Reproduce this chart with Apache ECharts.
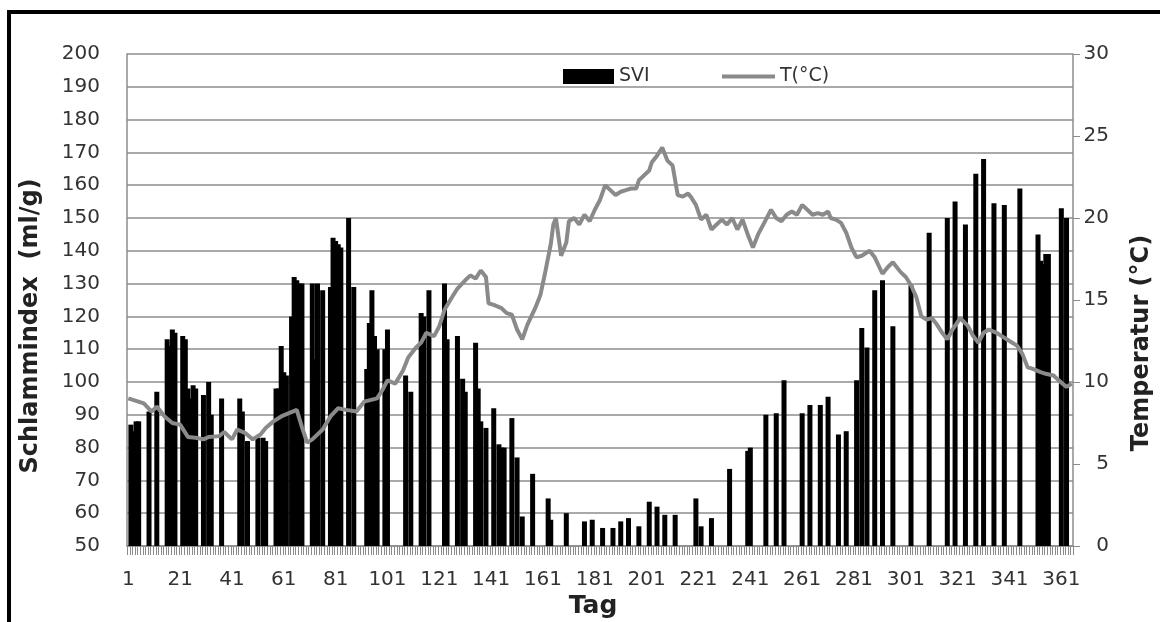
<!DOCTYPE html>
<html>
<head>
<meta charset="utf-8">
<script src="https://cdn.jsdelivr.net/npm/echarts@6/dist/echarts.min.js"></script>
<style>
  html, body { margin: 0; padding: 0; background: #fff; }
  #chart { width: 1160px; height: 622px; }
</style>
</head>
<body>
<div id="chart"></div>
<script>
// Tage 1..365
const days = Array.from({ length: 365 }, (_, i) => String(i + 1));

// Schlammindex (SVI, ml/g) an den Messtagen
const sviDays = [2, 3, 4, 5, 9, 12, 16, 17, 18, 19, 22, 23, 24, 25, 26, 27, 30, 32, 33, 37,
  44, 45, 47, 51, 53, 54, 58, 59, 60, 61, 62, 64, 65, 66, 67, 68, 72, 73, 74, 76,
  79, 80, 81, 82, 83, 86, 88, 93, 94, 95, 96, 97, 100, 101, 108, 110, 114, 115, 117, 123,
  124, 128, 130, 131, 135, 136, 137, 139, 142, 144, 145, 146, 149, 151, 153, 157, 163, 164, 170, 177,
  180, 184, 188, 191, 194, 198, 202, 205, 208, 212, 220, 222, 226, 233, 240, 241, 247, 251, 254, 261,
  264, 268, 271, 275, 278, 282, 284, 286, 289, 292, 296, 303, 310, 317, 320, 324, 328, 331, 335, 339,
  345, 352, 353, 354, 355, 356, 361, 363];
const sviValues = [87, 85, 88, 88, 91, 97, 113, 111, 116, 115, 114, 113, 98, 95, 99, 98, 96, 100, 90, 95,
  95, 91, 82, 83, 83, 82, 98, 98, 111, 103, 102, 120, 132, 131, 130, 130, 130, 107, 130, 128,
  129, 144, 143, 142, 141, 150, 129, 104, 118, 128, 114, 110, 110, 116, 102, 97, 121, 120, 128, 130,
  113, 114, 101, 97, 112, 98, 88, 86, 92, 81, 80, 80, 89, 77, 59, 72, 64.5, 58, 60, 57.5,
  58, 55.5, 55.5, 57.5, 58.5, 56, 63.5, 62, 59.5, 59.5, 64.5, 56, 58.5, 73.5, 79, 80, 90, 90.5, 100.5, 90.5,
  93, 93, 95.5, 84, 85, 100.5, 116.5, 110.5, 128, 131, 117, 129.5, 145.5, 150, 155, 148, 163.5, 168, 154.5, 154,
  159, 145, 137, 136, 139, 139, 153, 150];

// Temperatur (°C)
const tempDays = [1, 7, 10, 12, 15, 18, 21, 24, 27, 30, 32, 36, 38, 41, 43, 46, 49, 52, 54, 57,
  60, 63, 66, 68, 70, 72, 76, 79, 82, 85, 89, 92, 97, 99, 101, 104, 107, 109, 112, 114,
  116, 119, 121, 123, 126, 128, 131, 133, 135, 137, 139, 140, 142, 145, 147, 149, 151, 153, 155, 158,
  160, 162, 164, 165, 166, 168, 170, 171, 173, 175, 177, 179, 181, 183, 185, 187, 189, 191, 193, 195,
  197, 198, 200, 202, 203, 205, 207, 209, 211, 213, 215, 217, 218, 220, 222, 224, 226, 228, 230, 232,
  234, 236, 238, 240, 242, 244, 246, 247, 249, 251, 253, 255, 257, 259, 261, 263, 265, 267, 269, 271,
  272, 274, 276, 278, 280, 282, 284, 287, 289, 292, 294, 296, 299, 301, 303, 305, 307, 309, 311, 313,
  315, 317, 319, 322, 325, 327, 329, 331, 333, 336, 338, 341, 344, 346, 348, 350, 353, 355, 358, 360,
  363, 365];
const tempValues = [9.0, 8.7, 8.2, 8.5, 7.9, 7.5, 7.4, 6.65, 6.6, 6.5, 6.65, 6.7, 6.95, 6.5, 7.1, 6.9, 6.5, 6.8, 7.2, 7.6,
  7.9, 8.1, 8.3, 7.25, 6.3, 6.5, 7.1, 7.9, 8.4, 8.3, 8.2, 8.8, 9.0, 9.5, 10.1, 9.9, 10.7, 11.5, 12.1, 12.4,
  13.0, 12.8, 13.4, 14.4, 15.2, 15.7, 16.2, 16.5, 16.3, 16.8, 16.4, 14.8, 14.7, 14.5, 14.2, 14.1, 13.2, 12.6, 13.5, 14.5,
  15.3, 16.8, 18.4, 19.6, 20.0, 17.7, 18.5, 19.8, 20.0, 19.6, 20.2, 19.8, 20.5, 21.1, 22.0, 21.7, 21.4, 21.6, 21.7, 21.8,
  21.8, 22.3, 22.6, 22.9, 23.4, 23.8, 24.3, 23.5, 23.2, 21.4, 21.3, 21.5, 21.3, 20.8, 19.9, 20.2, 19.3, 19.6, 19.9, 19.6,
  20.0, 19.3, 19.9, 19.0, 18.2, 19.0, 19.6, 19.9, 20.5, 20.0, 19.8, 20.2, 20.4, 20.2, 20.8, 20.5, 20.2, 20.3, 20.2, 20.4,
  20.0, 19.9, 19.7, 19.1, 18.2, 17.6, 17.7, 18.0, 17.6, 16.6, 17.0, 17.3, 16.7, 16.4, 15.9, 15.2, 14.0, 13.8, 13.9, 13.5,
  13.0, 12.6, 13.2, 13.9, 13.4, 12.8, 12.4, 13.0, 13.2, 13.0, 12.8, 12.5, 12.2, 11.7, 10.9, 10.8, 10.6, 10.5, 10.4, 10.1,
  9.7, 9.9];

// Balken: ein Wert pro Tag, Lücken bleiben leer
const sviData = days.map(() => null);
sviDays.forEach((d, i) => { sviData[d - 1] = sviValues[i]; });
const tempData = tempDays.map((d, i) => [d - 1, tempValues[i]]);

const labelFont = 'DejaVu Sans';
const labelColor = '#333';
const gridColor = '#8c8c8c';
const lineColor = '#8a8a8a';

// Rahmen und Achsentitel; optional die Tagesstriche
function buildGraphics(tickMarks) {
  const items = [
    {
      type: 'rect', id: 'frame', shape: { x: 9, y: 12, width: 1200, height: 700 },
      style: { fill: 'none', stroke: '#000', lineWidth: 4 }, silent: true
    },
    {
      type: 'text', id: 'titleLeft', x: 31, y: 326, rotation: Math.PI / 2,
      style: { text: 'Schlammindex  (ml/g)', font: 'bold 24px "DejaVu Sans"', fill: '#222', align: 'center', verticalAlign: 'middle' }
    },
    {
      type: 'text', id: 'titleRight', x: 1142, y: 343, rotation: Math.PI / 2,
      style: { text: 'Temperatur (°C)', font: 'bold 24px "DejaVu Sans"', fill: '#222', align: 'center', verticalAlign: 'middle' }
    },
    {
      type: 'text', id: 'titleBottom', x: 593, y: 606,
      style: { text: 'Tag', font: 'bold 25px "DejaVu Sans"', fill: '#222', align: 'center', verticalAlign: 'middle' }
    }
  ];
  if (tickMarks) items.push({ type: 'group', id: 'dayTicks', children: tickMarks, silent: true });
  return items;
}

const chart = echarts.init(document.getElementById('chart'), null, { renderer: 'canvas' });
chart.setOption({
  animation: false,
  backgroundColor: '#fff',
  grid: { left: 127, right: 87, top: 54, bottom: 76, containLabel: false },
  legend: [
    {
      data: [{ name: 'SVI', icon: 'rect' }],
      left: 558, top: 62, itemWidth: 51, itemHeight: 15, itemGap: 0,
      textStyle: { fontFamily: labelFont, fontSize: 19, color: labelColor }
    },
    {
      data: [{ name: 'T(°C)', icon: 'rect', itemStyle: { color: lineColor } }],
      left: 717, top: 62, itemWidth: 53, itemHeight: 4, itemGap: 0,
      textStyle: { fontFamily: labelFont, fontSize: 19, color: labelColor }
    }
  ],
  xAxis: {
    type: 'category',
    data: days,
    boundaryGap: true,
    axisLine: { lineStyle: { color: gridColor, width: 1.5 } },
    axisTick: { show: false },
    axisLabel: { interval: 19, margin: 24, fontFamily: labelFont, fontSize: 20, color: labelColor },
    splitLine: { show: false }
  },
  yAxis: [
    {
      type: 'value', min: 50, max: 200, interval: 10,
      axisLine: { show: true, lineStyle: { color: gridColor, width: 1.5 } },
      axisTick: { show: false },
      axisLabel: { margin: 27, fontFamily: labelFont, fontSize: 20, color: labelColor },
      splitLine: { show: true, lineStyle: { color: gridColor, width: 1.5 } }
    },
    {
      type: 'value', min: 0, max: 30, interval: 5,
      axisLine: { show: true, lineStyle: { color: gridColor, width: 1.5 } },
      axisTick: { show: true, length: 7, lineStyle: { color: gridColor } },
      axisLabel: { margin: 36, align: 'right', fontFamily: labelFont, fontSize: 20, color: labelColor },
      splitLine: { show: false }
    }
  ],
  series: [
    {
      name: 'SVI', type: 'bar', data: sviData, barWidth: 5, barGap: '-100%',
      yAxisIndex: 0, itemStyle: { color: '#000' }
    },
    {
      name: 'T(°C)', type: 'line', data: tempData, yAxisIndex: 1,
      showSymbol: false, symbol: 'none', smooth: false,
      lineStyle: { color: lineColor, width: 4 },
      itemStyle: { color: lineColor }
    }
  ],
  graphic: buildGraphics(null)
});

// Tagesstriche unter der x-Achse, an den Kategoriegrenzen
const c0 = chart.convertToPixel({ xAxisIndex: 0 }, 0);
const c1 = chart.convertToPixel({ xAxisIndex: 0 }, 1);
const band = c1 - c0;
const axisY = chart.convertToPixel({ yAxisIndex: 0 }, 50);
const tickMarks = [];
for (let i = 0; i <= days.length; i++) {
  const x = Math.round(c0 - band / 2 + i * band) + 0.5;
  tickMarks.push({
    type: 'line', silent: true,
    shape: { x1: x, y1: axisY, x2: x, y2: axisY + 9 },
    style: { stroke: '#8a8a8a', lineWidth: 1 }
  });
}
chart.setOption({ graphic: buildGraphics(tickMarks) }, { replaceMerge: ['graphic'] });
</script>
</body>
</html>
